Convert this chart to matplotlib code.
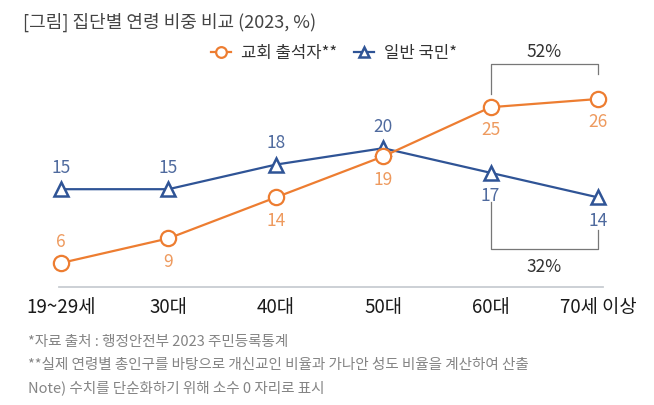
import numpy as np
import matplotlib.pyplot as plt

plt.rcParams['font.family'] = ['Noto Sans CJK KR', 'DejaVu Sans']

# --- data ---
categories = ['19~29세', '30대', '40대', '50대', '60대', '70세 이상']
church = [6, 9, 14, 19, 25, 26]
general = [15, 15, 18, 20, 17, 14]
church_label_pos = ['above', 'below', 'below', 'below', 'below', 'below']
general_label_pos = ['above', 'above', 'above', 'above', 'below', 'below']
top_bracket_text = '52%'
bottom_bracket_text = '32%'

ORANGE = '#ED7D31'
BLUE = '#2F5496'
ORANGE_TXT = '#EE9A5E'
BLUE_TXT = '#4F6A9E'

fig = plt.figure(figsize=(6.54, 4.06), dpi=100)
ax = fig.add_axes([0, 0, 1, 1])
# pixel mapping: index 0 -> x 61px, step 107.4px ; value 6 -> y 264px, 8.2px/unit
ax.set_xlim(-61 / 107.4, (654 - 61) / 107.4)
ax.set_ylim(6 - (406 - 264) / 8.2, 6 + 264 / 8.2)
ax.axis('off')

x = np.arange(len(categories))

ax.plot(x, general, color=BLUE, lw=1.6, marker='^', ms=10, mfc='white',
        mec=BLUE, mew=1.8, label='일반 국민*', zorder=3)
ax.plot(x, church, color=ORANGE, lw=1.6, marker='o', ms=11, mfc='white',
        mec=ORANGE, mew=1.6, label='교회 출석자**', zorder=4)

off = 2.7
for xi, v, pos in zip(x, church, church_label_pos):
    ax.text(xi, v + off if pos == 'above' else v - off, str(v), color=ORANGE_TXT,
            fontsize=12.5, ha='center', va='center')
for xi, v, pos in zip(x, general, general_label_pos):
    ax.text(xi, v + off if pos == 'above' else v - off, str(v), color=BLUE_TXT,
            fontsize=12.5, ha='center', va='center')

# brackets
bc = '#777777'
ax.plot([4, 4, 5, 5], [26.6, 30.3, 30.3, 29.0], color=bc, lw=0.9)
ax.text(4.5, 31.8, top_bracket_text, fontsize=12.5, ha='center', va='center', color='#333333')
ax.plot([4, 4, 5, 5], [13.4, 7.7, 7.7, 10.0], color=bc, lw=0.9)
ax.text(4.5, 5.6, bottom_bracket_text, fontsize=12.5, ha='center', va='center', color='#333333')

# baseline
ax.plot([-0.02, 5.05], [6 - (288 - 264) / 8.2] * 2, color='#C8CDD2', lw=1.3)

# category labels
for xi, c in zip(x, categories):
    ax.text(xi, 6 - (308 - 264) / 8.2, c, fontsize=13.5, ha='center', va='center',
            color='#1A1A1A')

# legend
leg = ax.legend(loc='center', bbox_to_anchor=(334 / 654, 1 - 54 / 406), ncol=2,
                frameon=False, fontsize=12, handlelength=1.2, columnspacing=1.0,
                handletextpad=0.6, markerscale=0.7, reverse=True)
for t in leg.get_texts():
    t.set_color('#333333')

fig.text(23 / 654, 1 - 22 / 406, '[그림] 집단별 연령 비중 비교 (2023, %)', fontsize=13,
         color='#444444', va='center', ha='left')

notes = ['*자료 출처 : 행정안전부 2023 주민등록통계',
         '**실제 연령별 총인구를 바탕으로 개신교인 비율과 가나안 성도 비율을 계산하여 산출',
         'Note) 수치를 단순화하기 위해 소수 0 자리로 표시']
for i, n in enumerate(notes):
    fig.text(28 / 654, 1 - (342 + 23 * i) / 406, n, fontsize=10.5, color='#848484',
             va='center', ha='left')

fig.savefig('out.png', dpi=100)
